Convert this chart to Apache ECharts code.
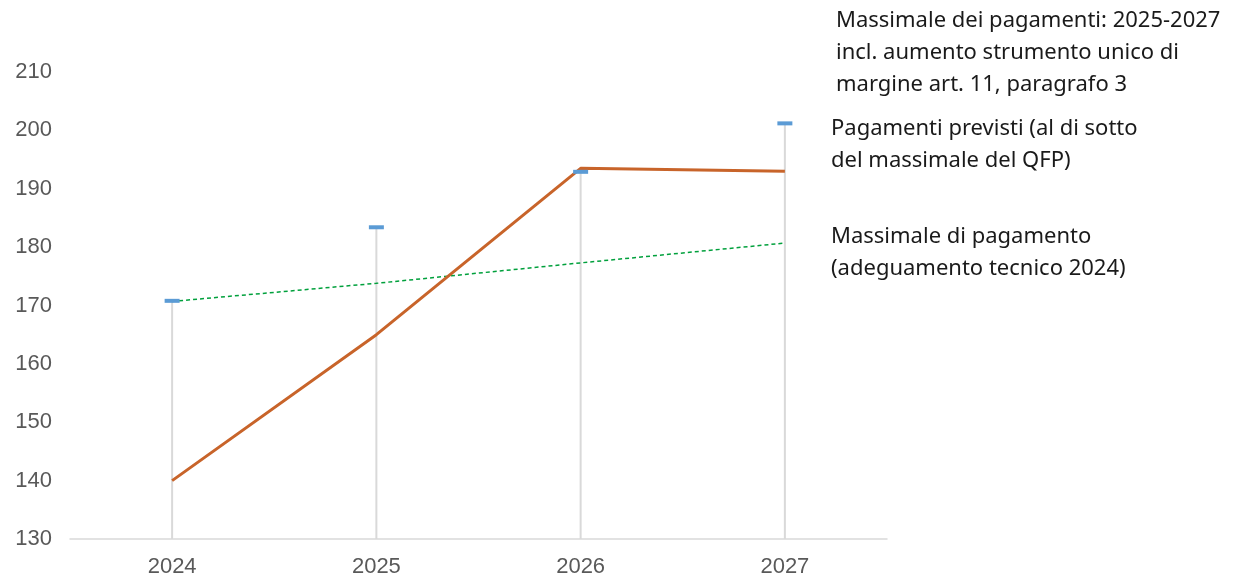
<!DOCTYPE html>
<html>
<head>
<meta charset="utf-8">
<script src="https://cdn.jsdelivr.net/npm/echarts@6/dist/echarts.min.js"></script>
<style>
  html, body { margin: 0; padding: 0; background: #fff; }
  #main { width: 1237px; height: 573px; }
</style>
</head>
<body>
<div id="main"></div>
<script>
// dati
var anni = ['2024', '2025', '2026', '2027'];
var pagamentiPrevisti = [140, 165, 193.5, 193];
var massimaleTecnico = [170.7, 173.8, 177.3, 180.7];
var massimaleConAumento = [170.8, 183.4, 192.9, 201.2];
var yTicks = [130, 140, 150, 160, 170, 180, 190, 200, 210];

var etichette = [
  { x: 836, y: 25, lines: ['Massimale dei pagamenti: 2025-2027', 'incl. aumento strumento unico di', 'margine art. 11, paragrafo 3'] },
  { x: 831, y: 133, lines: ['Pagamenti previsti (al di sotto', 'del massimale del QFP)'] },
  { x: 831, y: 241, lines: ['Massimale di pagamento', '(adeguamento tecnico 2024)'] }
];

var myChart = echarts.init(document.getElementById('main'));

var graphics = [];
etichette.forEach(function (e) {
  e.lines.forEach(function (t, i) {
    graphics.push({
      type: 'text',
      left: e.x,
      top: e.y + i * 32 - 15,
      style: { text: t, fill: '#1a1a1a', font: '22px "Noto Sans", "Open Sans", sans-serif' }
    });
  });
});

var option = {
  animation: false,
  grid: { left: 70, right: 350, top: 72, bottom: 34, outerBoundsMode: 'none', containLabel: false },
  xAxis: {
    type: 'category',
    data: anni,
    boundaryGap: true,
    axisLine: { show: true, lineStyle: { color: '#d9d9d9', width: 1.5 } },
    axisTick: { show: false },
    axisLabel: { color: '#595959', fontSize: 22, margin: 17, fontFamily: 'Liberation Sans, Arial, sans-serif' },
    splitLine: { show: false }
  },
  yAxis: {
    type: 'value',
    min: yTicks[0],
    max: yTicks[yTicks.length - 1],
    interval: 10,
    axisLine: { show: false },
    axisTick: { show: false },
    splitLine: { show: false },
    axisLabel: { color: '#595959', fontSize: 22, margin: 18, fontFamily: 'Liberation Sans, Arial, sans-serif' }
  },
  series: [
    {
      name: 'linee',
      type: 'bar',
      data: massimaleConAumento,
      barWidth: 2,
      itemStyle: { color: '#d9d9d9' },
      z: 1
    },
    {
      name: 'Massimale di pagamento (adeguamento tecnico 2024)',
      type: 'line',
      data: massimaleTecnico,
      symbol: 'none',
      lineStyle: { color: '#00a03c', width: 1.5, type: [4, 3] },
      z: 2
    },
    {
      name: 'Pagamenti previsti',
      type: 'line',
      data: pagamentiPrevisti,
      symbol: 'none',
      lineStyle: { color: '#c8642a', width: 3 },
      z: 3
    },
    {
      name: 'Massimale dei pagamenti',
      type: 'scatter',
      data: massimaleConAumento,
      symbol: 'rect',
      symbolSize: [15, 4],
      itemStyle: { color: '#5b9bd5', opacity: 1 },
      z: 4
    }
  ],
  graphic: graphics
};

myChart.setOption(option);
window.addEventListener('resize', function () {
  myChart.resize();
});
</script>
</body>
</html>
